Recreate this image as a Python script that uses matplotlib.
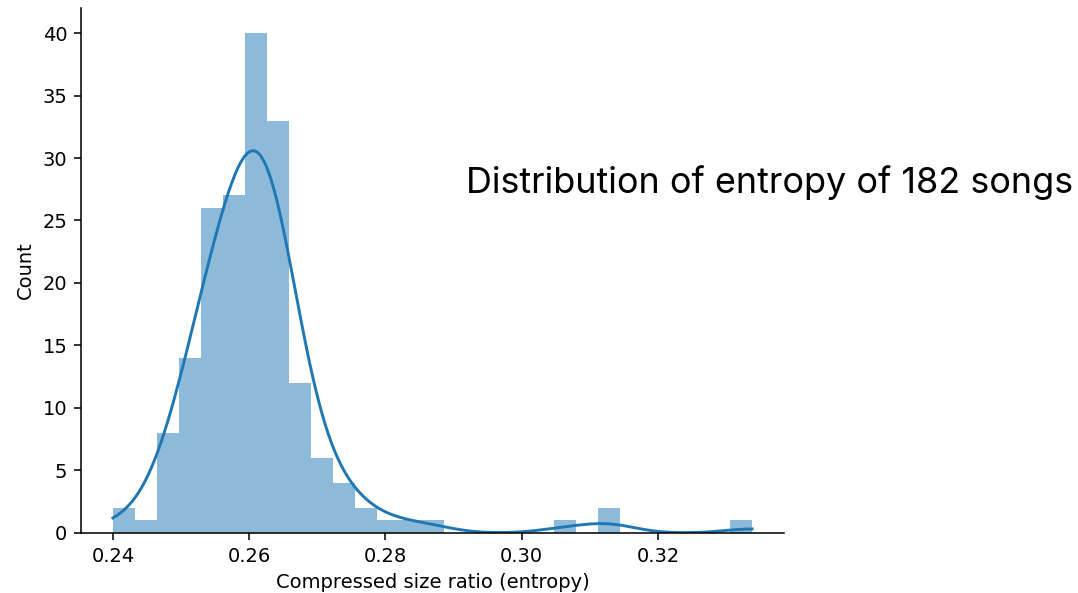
import numpy as np
import matplotlib
matplotlib.use("Agg")
import matplotlib.pyplot as plt
import seaborn as sns

## the data: 29 equal bins from 0.2400 to 0.3338
bin_lo = 0.2400
bin_hi = 0.3338
counts = [2, 1, 8, 14, 26, 27, 40, 33, 12, 6, 4, 2, 1, 1, 1,
          0, 0, 0, 0, 0, 1, 0, 2, 0, 0, 0, 0, 0, 1]

edges = np.linspace(bin_lo, bin_hi, len(counts) + 1)
centers = (edges[:-1] + edges[1:]) / 2
# rebuild samples from histogram (one per song)
entropy = np.repeat(centers, counts)
entropy[0] = bin_lo
entropy[-1] = bin_hi

fig = plt.figure(figsize=(1078 / 140, 593 / 140), dpi=140)
ax = fig.add_axes([0.0751, 0.1012, 0.6522, 0.8853])

sns.histplot(x=entropy, bins=edges, kde=True, ax=ax,
             color='#1f77b4', alpha=0.5, linewidth=0,
             kde_kws={'bw_adjust': 1.03})
sns.despine(ax=ax)

ax.set_xlabel('Compressed size ratio (entropy)')
ax.set_ylabel('Count')
ax.set_xticks([0.24, 0.26, 0.28, 0.30, 0.32])

fig.text(0.432, 0.6745, 'Distribution of entropy of 182 songs',
         fontsize=18.5, family=['Inter', 'DejaVu Sans'], va='baseline')

fig.savefig('out.png', dpi=140)
